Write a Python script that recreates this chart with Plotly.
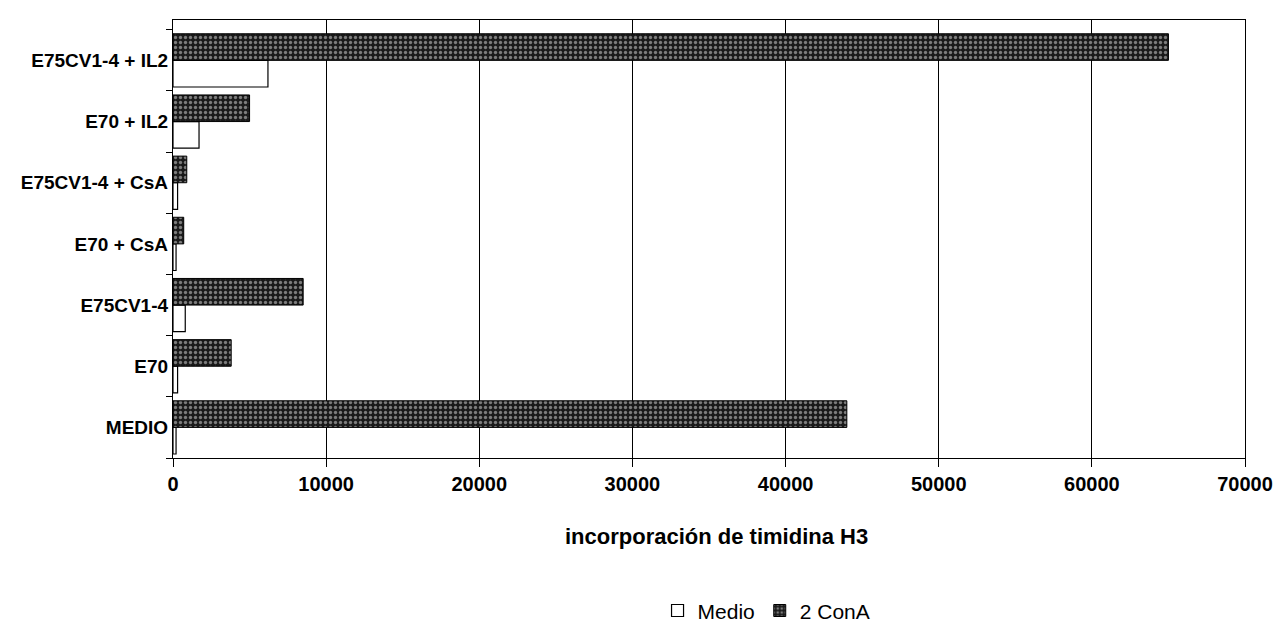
import plotly.graph_objects as go

categories = ["MEDIO", "E70", "E75CV1-4", "E70 + CsA", "E75CV1-4 + CsA", "E70 + IL2", "E75CV1-4 + IL2"]
medio = [200, 300, 800, 200, 300, 1700, 6200]
cona = [44000, 3800, 8500, 700, 900, 5000, 65000]
x_ticks = [0, 10000, 20000, 30000, 40000, 50000, 60000, 70000]
x_title = "incorporación de timidina H3"

font_family = "Liberation Sans, Arial, sans-serif"

fig = go.Figure()
fig.add_trace(go.Bar(
    y=categories, x=medio, orientation="h", name="Medio",
    marker=dict(color="white", line=dict(color="black", width=1.2)),
))
fig.add_trace(go.Bar(
    y=categories, x=cona, orientation="h", name="2 ConA",
    marker=dict(color="#222222", line=dict(color="black", width=1),
                pattern=dict(shape=".", fgcolor="#dddddd", bgcolor="#1a1a1a", size=5, solidity=0.35)),
))

fig.update_layout(
    width=1281, height=635,
    margin=dict(l=165, r=44, t=12, b=173),
    paper_bgcolor="white", plot_bgcolor="white",
    barmode="group", bargap=0.13, bargroupgap=0.0,
    font=dict(family=font_family, color="black"),
    showlegend=True,
    legend=dict(orientation="h", x=0.452, y=-0.349, xanchor="left", yanchor="middle",
                font=dict(size=21, family=font_family), traceorder="normal",
                itemwidth=30),
    xaxis=dict(
        range=[0, 70000], tickvals=x_ticks, ticktext=[str(v) for v in x_ticks],
        showgrid=True, gridcolor="black", gridwidth=1,
        showline=True, linecolor="black", linewidth=1.2, mirror=True,
        ticks="outside", ticklen=8, tickcolor="black",
        tickfont=dict(size=20, family=font_family, weight="bold"),
        zeroline=False, automargin=False,
    ),
    yaxis=dict(
        categoryorder="array", categoryarray=categories,
        range=[-0.5, 6.66],
        showline=True, linecolor="black", linewidth=1.2, mirror=True,
        ticks="outside", ticklen=6, tickcolor="black", tickson="boundaries",
        tickfont=dict(size=19, family=font_family, weight="bold"),
        showgrid=False, automargin=False,
    ),
    annotations=[dict(
        text=x_title, xref="paper", yref="paper", x=0.364, y=-0.147,
        xanchor="left", yanchor="top", showarrow=False,
        font=dict(size=22, family=font_family, weight="bold"),
    )],
)

fig.write_html("out.html")
